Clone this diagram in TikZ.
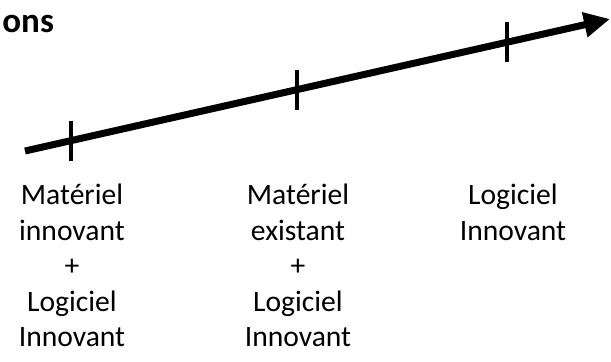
\documentclass[tikz,border=0pt]{standalone}
\usepackage{fontspec}
\setmainfont{Carlito}
\usetikzlibrary{arrows.meta}

\begin{document}
\begin{tikzpicture}[x=0.5pt, y=-0.5pt,
    axe/.style={line width=3.5pt, -{Triangle[length=13pt, width=12pt]}},
    tic/.style={line width=2pt},
    etiq/.style={anchor=north, align=center, inner sep=0pt, font=\fontsize{14.8}{17.75}\selectfont}]
  \useasboundingbox (0,0) rectangle (611,361);

  % --- titre (coupé) ---
  \node[anchor=base west, inner sep=0pt, font=\fontsize{17.5}{21}\selectfont\bfseries] (titre) at (2,32) {ons};

  % --- axe ---
  \coordinate (debut) at (25,151);
  \coordinate (fin) at (610,19);
  \draw[axe] (debut) -- (fin);
  \path (debut) -- (fin)
    coordinate[pos=0.0786] (g1)
    coordinate[pos=0.465] (g2)
    coordinate[pos=0.824] (g3);

  % --- graduations ---
  \foreach \g in {g1,g2,g3}
    \draw[tic] ([yshift=10pt]\g) -- ([yshift=-10pt]\g);

  % --- étiquettes ---
  \node[etiq] (lab1) at (72,184) {Matériel\\innovant\\+\\Logiciel\\Innovant};
  \node[etiq] (lab2) at (298,184) {Matériel\\existant\\+\\Logiciel\\Innovant};
  \node[etiq] (lab3) at (513,184) {Logiciel\\Innovant};
\end{tikzpicture}
\end{document}
